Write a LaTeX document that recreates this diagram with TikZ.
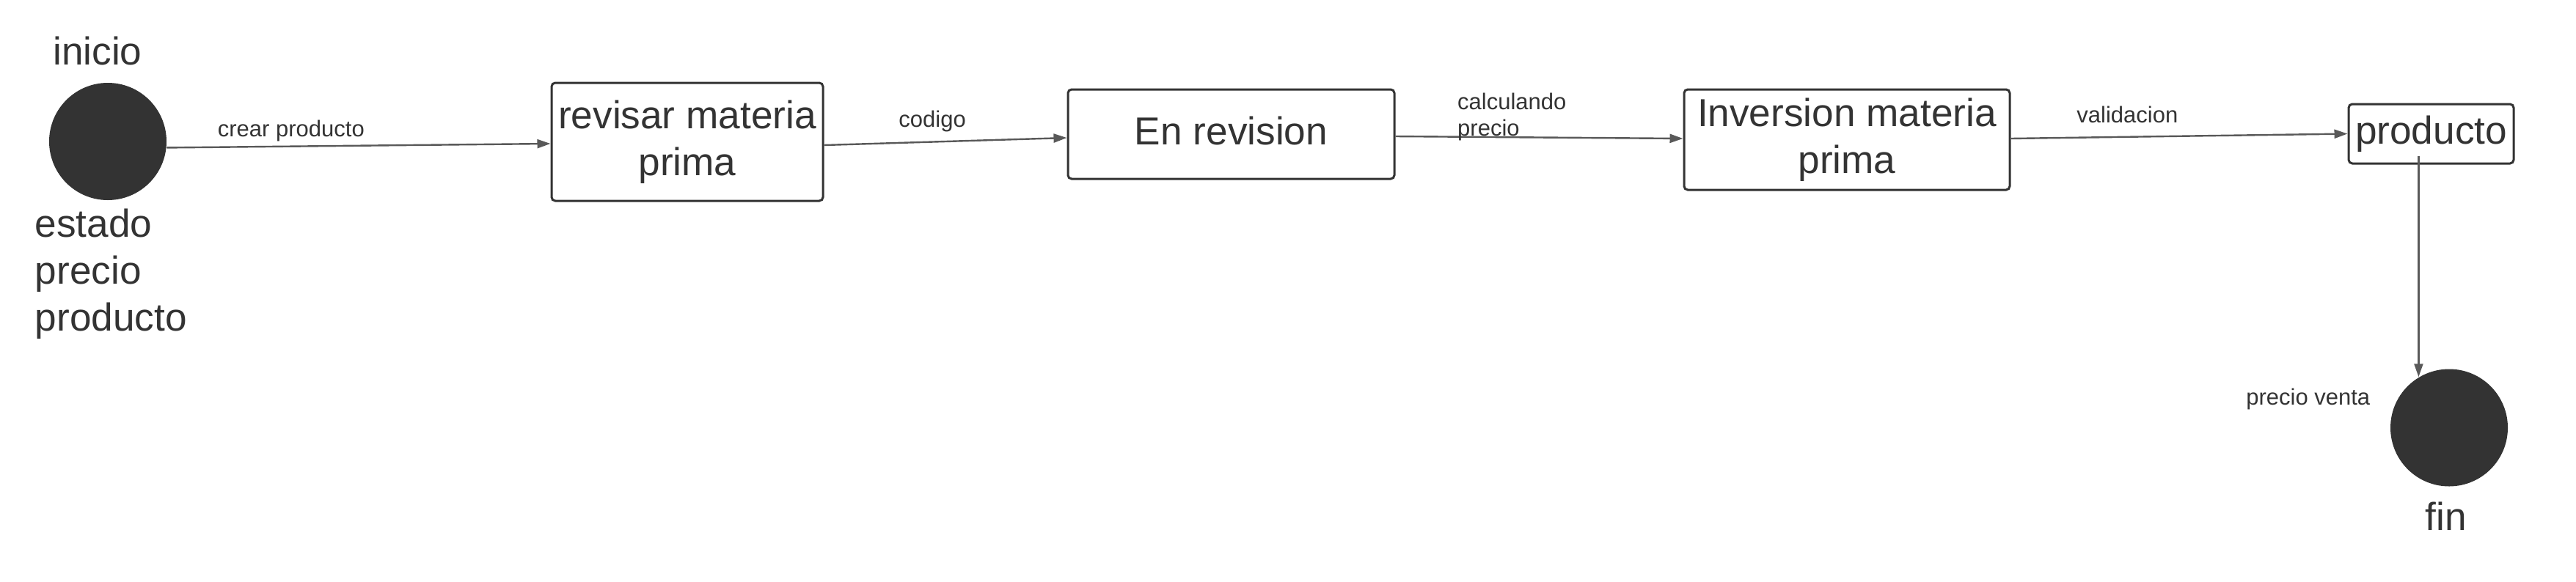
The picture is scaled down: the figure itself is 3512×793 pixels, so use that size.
\documentclass[tikz,border=0pt]{standalone}
\usepackage{fontspec}
\setmainfont{Liberation Sans}
\usetikzlibrary{arrows.meta,calc}
\definecolor{ink}{HTML}{333333}
\definecolor{wire}{HTML}{595959}

\begin{document}
\begin{tikzpicture}[x=0.25pt,y=-0.25pt,->,>={Triangle[length=4.5pt,width=3pt]},font=\fontsize{13.3}{16}\selectfont,text=ink]

\tikzstyle{dot}=[circle,fill=ink,minimum size=40pt,inner sep=0pt]
\tikzstyle{state}=[draw=ink,line width=0.75pt,rounded corners=1.25pt,align=center,inner sep=1pt,text depth=0.25em]
\tikzstyle{txt}=[inner sep=0pt,align=left]
\tikzstyle{lbl}=[inner sep=0pt,font=\fontsize{7.75}{9}\selectfont,align=left]
\tikzstyle{every edge}=[draw=wire,line width=0.6pt]

\useasboundingbox (0,0) rectangle (3512,793);

    \node[dot]                                                  (inicio)    at (147,193)     {};
    \node[state,minimum width=92.5pt,minimum height=40.25pt]    (revisar)   at (937,193.5)   {revisar materia\\prima};
    \node[state,minimum width=111.25pt,minimum height=30.5pt]   (enrev)     at (1678.5,183)  {En revision};
    \node[state,minimum width=111pt,minimum height=34.25pt]     (inversion) at (2518,190.5)  {Inversion materia\\prima};
    \node[state,minimum width=56.25pt,minimum height=20.25pt]   (producto)  at (3314.5,182.5) {producto};
    \node[dot]                                                  (fin)       at (3339,583.5)  {};

    % textos de los estados inicial y final
    \node[txt,anchor=base]       (tinicio) at (133,88)   {inicio};
    \node[txt,anchor=north west] (attrs)   at (47,284)   {estado\\precio\\producto};
    \node[txt,anchor=base]       (tfin)    at (3335,723) {fin};

    \coordinate (salida) at ($(fin.121 |- producto.south)+(0,-12)$);

	\path
	(inicio.-6) edge node[lbl,pos=0.324,anchor=base,yshift=3.4pt] {crear producto} ([yshift=-0.625pt]revisar.west)

	([yshift=-1.125pt]revisar.east) edge node[lbl,pos=0.446,anchor=base,yshift=5.1pt] {codigo} ([yshift=-1.25pt]enrev.west)

	([yshift=-0.75pt]enrev.east) edge node[lbl,pos=0.213,anchor=north west,yshift=15.15pt] {calculando\\precio} ([yshift=0.375pt]inversion.west)

	([yshift=0.375pt]inversion.east) edge node[lbl,pos=0.346,anchor=base,yshift=4.9pt] {validacion} (producto.west)

	(salida) edge node[lbl,pos=1,anchor=base east,xshift=-16.25pt,yshift=-9.5pt] {precio venta} (fin.121);

\end{tikzpicture}
\end{document}
